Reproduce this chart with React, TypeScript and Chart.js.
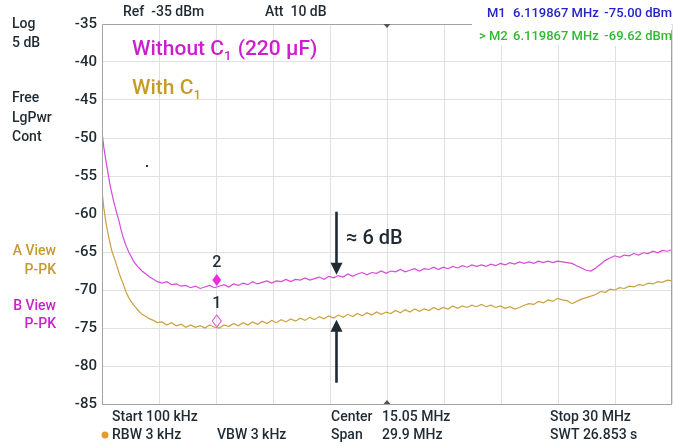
import { useEffect, useRef } from 'react';
import { Chart, registerables } from 'chart.js';

Chart.register(...registerables);

// Sweep frequencies (MHz)
const FREQ_MHZ = [
  0.1, 0.2, 0.3, 0.4, 0.5, 0.6, 0.7, 0.8, 0.9, 1.0, 1.1, 1.2, 1.35, 1.5, 1.65, 1.8, 2.0, 2.2, 2.4, 2.6, 2.8, 3.0,
  3.25, 3.5, 3.75, 4.0, 4.25, 4.5, 4.75, 5.0, 5.25, 5.5, 5.75, 6.0, 6.25, 6.5, 6.75, 7.0, 7.25, 7.5, 7.75, 8.0,
  8.25, 8.5, 8.75, 9.0, 9.25, 9.5, 9.75, 10.0, 10.25, 10.5, 10.75, 11.0, 11.25, 11.5, 11.75, 12.0, 12.25, 12.5,
  12.75, 13.0, 13.25, 13.5, 13.75, 14.0, 14.25, 14.5, 14.75, 15.0, 15.25, 15.5, 15.75, 16.0, 16.25, 16.5, 16.75,
  17.0, 17.25, 17.5, 17.75, 18.0, 18.25, 18.5, 18.75, 19.0, 19.25, 19.5, 19.75, 20.0, 20.25, 20.5, 20.75, 21.0,
  21.25, 21.5, 21.75, 22.0, 22.25, 22.5, 22.75, 23.0, 23.25, 23.5, 23.75, 24.0, 24.25, 24.5, 24.75, 25.0, 25.25,
  25.5, 25.75, 26.0, 26.25, 26.5, 26.75, 27.0, 27.25, 27.5, 27.75, 28.0, 28.25, 28.5, 28.75, 29.0, 29.25, 29.5,
  29.75, 30.0,
];

// Trace B: without C1 (dBm)
const WITHOUT_C1_DBM = [
  -49.3, -51.3, -52.9, -54.4, -55.9, -57.1, -58.2, -59.2, -60.1, -61.0, -62.1, -63.0, -64.1, -65.0, -65.7, -66.4, -67.0, -67.5, -67.9, -68.3, -68.6, -68.9,
  -69.1, -68.9, -69.3, -69.2, -69.5, -69.4, -69.7, -69.5, -69.8, -69.6, -69.4, -69.7, -69.5, -69.3, -69.6, -69.2, -69.4, -69.1, -69.3, -68.9,
  -69.2, -69.0, -68.8, -69.1, -68.8, -68.9, -68.6, -68.9, -68.6, -68.7, -68.4, -68.7, -68.5, -68.3, -68.6, -68.2, -68.4, -68.1,
  -68.3, -67.9, -68.2, -67.9, -67.7, -68.0, -67.7, -67.8, -67.5, -67.8, -67.5, -67.6, -67.3, -67.6, -67.4, -67.2, -67.5,
  -67.2, -67.3, -67.0, -67.3, -67.0, -67.2, -66.9, -67.1, -66.8, -67.0, -66.7, -66.9, -66.7, -66.9, -66.6, -66.8, -66.5,
  -66.7, -66.4, -66.6, -66.3, -66.5, -66.3, -66.5, -66.2, -66.4, -66.2, -66.4, -66.2, -66.3, -66.4, -66.5, -66.8, -67.1,
  -67.4, -67.5, -67.1, -66.6, -66.1, -65.8, -65.5, -65.7, -65.4, -65.5, -65.2, -65.4, -65.1, -65.2, -64.9, -65.1, -64.8,
  -64.9, -64.7,
];

// Trace A: with C1 (dBm)
const WITH_C1_DBM = [
  -57.0, -59.3, -61.0, -62.4, -63.6, -64.7, -65.5, -66.2, -67.0, -67.8, -68.5, -69.1, -70.2, -71.0, -71.6, -72.1, -72.7, -73.2, -73.5, -73.8, -74.0, -74.3,
  -74.2, -74.6, -74.3, -74.7, -74.5, -74.9, -74.6, -74.9, -74.7, -75.0, -74.6, -74.9, -75.0, -74.6, -74.8, -74.4, -74.7, -74.3, -74.6, -74.2,
  -74.5, -74.1, -74.4, -74.0, -74.3, -73.9, -74.2, -73.8, -74.1, -73.7, -74.0, -73.6, -73.9, -73.5, -73.8, -73.4, -73.7, -73.3,
  -73.6, -73.2, -73.5, -73.1, -73.4, -73.0, -73.3, -72.9, -73.2, -72.9, -73.1, -72.7, -73.0, -72.6, -72.9, -72.5, -72.8,
  -72.5, -72.7, -72.3, -72.6, -72.3, -72.5, -72.1, -72.4, -72.1, -72.3, -72.0, -72.2, -71.9, -72.2, -72.0, -72.3, -72.1,
  -72.4, -72.2, -72.5, -72.3, -72.0, -71.8, -71.9, -71.5, -71.7, -71.3, -71.5, -71.1, -71.3, -71.4, -71.8, -71.5, -71.2,
  -71.0, -70.8, -70.6, -70.2, -70.3, -69.9, -70.0, -69.7, -69.8, -69.5, -69.6, -69.3, -69.4, -69.1, -69.2, -68.9, -69.0,
  -68.7, -68.8,
];

const START_MHZ = 0.1;
const STOP_MHZ = 30;
const REF_LEVEL_DBM = -35;
const BOTTOM_LEVEL_DBM = -85;
const LEVEL_STEP_DB = 5;
const GRID_DIVISIONS = 10;

// Markers: 1 on trace A, 2 on trace B
const MARKER_NAMES = ['1', '2'];
const MARKER_FREQ_MHZ = [6.119867, 6.119867];
const MARKER_LEVEL_DBM = [-75.0, -69.62];

// Difference arrows
const ARROW_FREQ_MHZ = 12.4;
const ARROW_DOWN_DBM = [-59.7, -68.0];
const ARROW_UP_DBM = [-82.2, -73.9];
const DELTA_LABEL = '≈ 6 dB';
const DELTA_LABEL_POS = [12.9, -63.3];

const MAGENTA_TRACE = '#d24cd8';
const GOLD_TRACE = '#c9a13f';
const MAGENTA_TEXT = '#cc1fcc';
const GOLD_TEXT = '#c79a2a';
const DARK = '#1f2a33';
const FONT = 'Roboto, "Noto Sans", sans-serif';

function drawSubText(
  ctx: CanvasRenderingContext2D,
  parts: { t: string; sub?: boolean }[],
  x: number,
  y: number,
  size: number,
  color: string,
) {
  ctx.fillStyle = color;
  ctx.textBaseline = 'middle';
  ctx.textAlign = 'left';
  let cx = x;
  for (const p of parts) {
    const s = p.sub ? Math.round(size * 0.62) : size;
    ctx.font = `500 ${s}px ${FONT}`;
    ctx.fillText(p.t, cx, p.sub ? y + size * 0.3 : y);
    cx += ctx.measureText(p.t).width + (p.sub ? 1 : 0);
  }
}

const overlayPlugin = {
  id: 'analyzerOverlay',
  beforeDatasetsDraw(chart: any) {
    const { ctx, chartArea } = chart;
    ctx.save();
    // marker readout panel covers the top-right corner of the graticule
    ctx.fillStyle = '#ffffff';
    ctx.fillRect(472, 0, chartArea.right - 473, 46);
    ctx.restore();
  },
  afterDatasetsDraw(chart: any) {
    const { ctx, chartArea, scales } = chart;
    const xs = scales.x;
    const ys = scales.y;
    ctx.save();

    // frame
    ctx.strokeStyle = '#a3a3a3';
    ctx.lineWidth = 1;
    ctx.beginPath();
    ctx.moveTo(472, chartArea.top + 0.5);
    ctx.lineTo(chartArea.left + 0.5, chartArea.top + 0.5);
    ctx.lineTo(chartArea.left + 0.5, chartArea.bottom + 0.5);
    ctx.lineTo(chartArea.right - 0.5, chartArea.bottom + 0.5);
    ctx.lineTo(chartArea.right - 0.5, 30);
    ctx.stroke();

    // center frequency ticks
    const cx = xs.getPixelForValue((START_MHZ + STOP_MHZ) / 2);
    ctx.fillStyle = '#555';
    ctx.beginPath();
    ctx.moveTo(cx - 3.5, chartArea.top);
    ctx.lineTo(cx + 3.5, chartArea.top);
    ctx.lineTo(cx, chartArea.top + 4);
    ctx.fill();
    ctx.beginPath();
    ctx.moveTo(cx - 3.5, chartArea.bottom);
    ctx.lineTo(cx + 3.5, chartArea.bottom);
    ctx.lineTo(cx, chartArea.bottom - 4);
    ctx.fill();

    // markers
    for (let i = 0; i < MARKER_NAMES.length; i++) {
      const px = xs.getPixelForValue(MARKER_FREQ_MHZ[i]);
      const py = ys.getPixelForValue(MARKER_LEVEL_DBM[i]);
      const filled = i === 1;
      const cy = py - 7;
      ctx.beginPath();
      ctx.moveTo(px, cy - 6);
      ctx.lineTo(px + 4.5, cy);
      ctx.lineTo(px, cy + 6);
      ctx.lineTo(px - 4.5, cy);
      ctx.closePath();
      if (filled) {
        ctx.fillStyle = '#f02ae0';
        ctx.fill();
      } else {
        ctx.strokeStyle = '#e060e0';
        ctx.lineWidth = 1.2;
        ctx.stroke();
      }
      ctx.fillStyle = DARK;
      ctx.font = `500 16px ${FONT}`;
      ctx.textAlign = 'center';
      ctx.textBaseline = 'middle';
      ctx.fillText(MARKER_NAMES[i], px, py - 24);
    }

    // difference arrows
    const ax = xs.getPixelForValue(ARROW_FREQ_MHZ);
    const drawArrow = (fromDbm: number, toDbm: number) => {
      const y0 = ys.getPixelForValue(fromDbm);
      const y1 = ys.getPixelForValue(toDbm);
      const dir = Math.sign(y1 - y0);
      ctx.strokeStyle = DARK;
      ctx.fillStyle = DARK;
      ctx.lineWidth = 2.6;
      ctx.beginPath();
      ctx.moveTo(ax, y0);
      ctx.lineTo(ax, y1 - dir * 10);
      ctx.stroke();
      ctx.beginPath();
      ctx.moveTo(ax, y1);
      ctx.lineTo(ax - 6, y1 - dir * 12);
      ctx.lineTo(ax + 6, y1 - dir * 12);
      ctx.closePath();
      ctx.fill();
    };
    drawArrow(ARROW_DOWN_DBM[0], ARROW_DOWN_DBM[1]);
    drawArrow(ARROW_UP_DBM[0], ARROW_UP_DBM[1]);
    ctx.fillStyle = DARK;
    ctx.font = `500 20px ${FONT}`;
    ctx.textAlign = 'left';
    ctx.textBaseline = 'middle';
    ctx.fillText(DELTA_LABEL, xs.getPixelForValue(DELTA_LABEL_POS[0]), ys.getPixelForValue(DELTA_LABEL_POS[1]));

    // trace legends
    drawSubText(ctx, [{ t: 'Without C' }, { t: '1', sub: true }, { t: ' (220 µF)' }], 132, 50, 21, MAGENTA_TEXT);
    drawSubText(ctx, [{ t: 'With C' }, { t: '1', sub: true }], 132, 89, 21, GOLD_TEXT);

    // small speck on screen
    ctx.fillStyle = '#333';
    ctx.fillRect(146, 165, 2, 2);

    // side annotations
    ctx.font = `500 14px ${FONT}`;
    ctx.textBaseline = 'middle';
    ctx.textAlign = 'left';
    ctx.fillStyle = DARK;
    ctx.fillText('Log', 12, 24);
    ctx.fillText('5 dB', 12, 43);
    ctx.fillText('Free', 12, 98);
    ctx.fillText('LgPwr', 12, 118);
    ctx.fillText('Cont', 12, 137);
    ctx.textAlign = 'right';
    ctx.fillStyle = GOLD_TEXT;
    ctx.fillText('A View', 56, 251);
    ctx.fillText('P-PK', 56, 270);
    ctx.fillStyle = MAGENTA_TEXT;
    ctx.fillText('B View', 56, 306);
    ctx.fillText('P-PK', 56, 324);

    // header
    ctx.textAlign = 'left';
    ctx.fillStyle = DARK;
    ctx.fillText('Ref  -35 dBm', 123, 12);
    ctx.fillText('Att  10 dB', 265, 12);
    ctx.font = `500 13px ${FONT}`;
    ctx.fillStyle = '#2424c8';
    ctx.fillText('M1', 487, 14);
    ctx.fillText('6.119867 MHz', 513, 14);
    ctx.textAlign = 'right';
    ctx.fillText('-75.00 dBm', 672, 14);
    ctx.fillStyle = '#33b833';
    ctx.textAlign = 'left';
    ctx.fillText('> M2', 479, 37);
    ctx.fillText('6.119867 MHz', 513, 37);
    ctx.textAlign = 'right';
    ctx.fillText('-69.62 dBm', 672, 37);

    // footer
    ctx.font = `500 14px ${FONT}`;
    ctx.textAlign = 'left';
    ctx.fillStyle = DARK;
    ctx.fillText('Start 100 kHz', 112, 417);
    ctx.fillText('RBW 3 kHz', 112, 435);
    ctx.fillText('VBW 3 kHz', 217, 435);
    ctx.fillText('Center', 331, 417);
    ctx.fillText('Span', 331, 435);
    ctx.fillText('15.05 MHz', 382, 417);
    ctx.fillText('29.9 MHz', 382, 435);
    ctx.fillText('Stop 30 MHz', 550, 417);
    ctx.fillText('SWT 26.853 s', 550, 435);
    ctx.fillStyle = '#e79b2e';
    ctx.beginPath();
    ctx.arc(105, 435, 3.5, 0, Math.PI * 2);
    ctx.fill();

    ctx.restore();
  },
};

export default function App() {
  const canvasRef = useRef<HTMLCanvasElement | null>(null);

  useEffect(() => {
    if (!canvasRef.current) return;
    const toPoints = (vals: number[]) => FREQ_MHZ.map((f, i) => ({ x: f, y: vals[i] }));
    const chart = new Chart(canvasRef.current, {
      type: 'line',
      data: {
        datasets: [
          {
            label: 'Without C1 (220 µF)',
            data: toPoints(WITHOUT_C1_DBM),
            borderColor: MAGENTA_TRACE,
            borderWidth: 1.2,
            pointRadius: 0,
            tension: 0,
          },
          {
            label: 'With C1',
            data: toPoints(WITH_C1_DBM),
            borderColor: GOLD_TRACE,
            borderWidth: 1.2,
            pointRadius: 0,
            tension: 0,
          },
        ],
      },
      options: {
        animation: false,
        responsive: true,
        maintainAspectRatio: false,
        layout: { padding: { top: 24, right: 3, bottom: 42, left: 0 } },
        plugins: { legend: { display: false }, tooltip: { enabled: false } },
        scales: {
          x: {
            type: 'linear',
            min: START_MHZ,
            max: STOP_MHZ,
            afterBuildTicks: (scale: any) => {
              const step = (STOP_MHZ - START_MHZ) / GRID_DIVISIONS;
              scale.ticks = Array.from({ length: GRID_DIVISIONS + 1 }, (_, i) => ({ value: START_MHZ + i * step }));
            },
            afterFit: (scale: any) => {
              scale.height = 0;
            },
            ticks: { display: false },
            grid: { color: '#e0e0e0', drawTicks: false },
            border: { display: false },
          },
          y: {
            type: 'linear',
            min: BOTTOM_LEVEL_DBM,
            max: REF_LEVEL_DBM,
            afterFit: (scale: any) => {
              scale.width = 102;
            },
            ticks: {
              stepSize: LEVEL_STEP_DB,
              padding: 5,
              color: DARK,
              font: { family: FONT, size: 15, weight: '500' as any },
              callback: (v: any) => String(v),
            },
            grid: { color: '#e0e0e0', drawTicks: false },
            border: { display: false },
          },
        },
      },
      plugins: [overlayPlugin],
    });
    return () => chart.destroy();
  }, []);

  return (
    <div style={{ position: 'fixed', left: 0, top: 0, width: 675, height: 446, background: '#fff' }}>
      <canvas ref={canvasRef} />
    </div>
  );
}
